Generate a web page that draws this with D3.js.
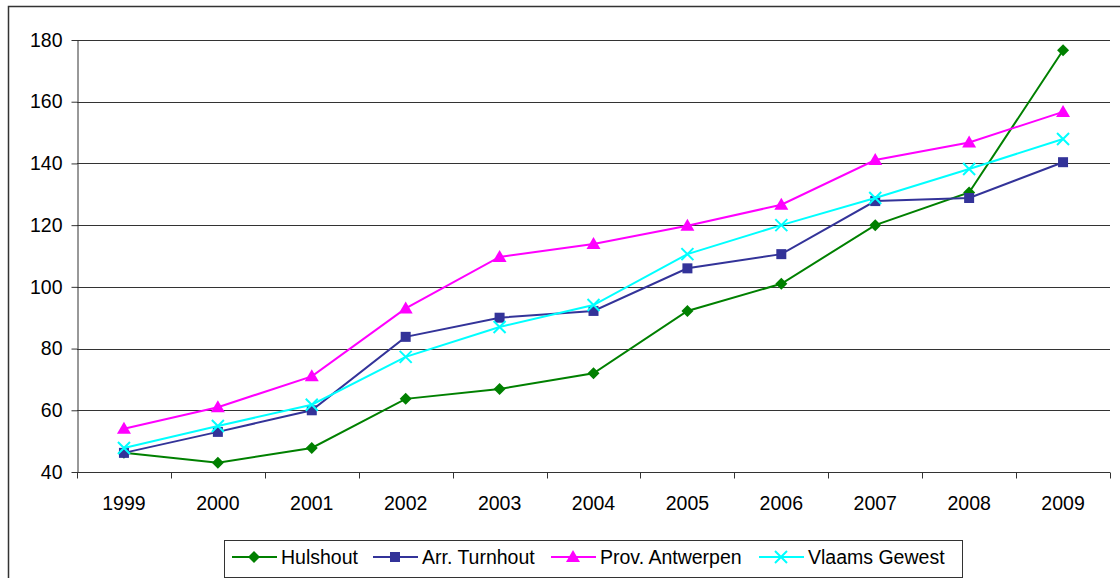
<!DOCTYPE html>
<html>
<head>
<meta charset="utf-8">
<script src="https://cdn.jsdelivr.net/npm/d3@7"></script>
<style>
  body { margin: 0; background: #fff; }
  text { font-family: "Liberation Sans", Arial, sans-serif; }
</style>
</head>
<body>
<div id="chart"></div>
<script>
const years = ["1999", "2000", "2001", "2002", "2003", "2004", "2005", "2006", "2007", "2008", "2009"];
const hulshout = [46.2, 43, 47.8, 63.7, 66.9, 72, 92.2, 101, 120, 130.6, 176.7];
const turnhout = [46.2, 53, 60, 83.8, 90, 92.2, 106, 110.6, 127.8, 128.8, 140.4];
const antwerpen = [54, 61, 71, 93, 109.7, 113.9, 119.8, 126.6, 141.1, 146.8, 156.7];
const vlaams = [47.8, 54.9, 61.8, 77.3, 87, 94.1, 110.6, 120, 128.8, 138.2, 147.9];
const yTicks = [40, 60, 80, 100, 120, 140, 160, 180];

const series = [
  { name: "Hulshout", values: hulshout, color: "#008000", marker: "diamond" },
  { name: "Arr. Turnhout", values: turnhout, color: "#333399", marker: "square" },
  { name: "Prov. Antwerpen", values: antwerpen, color: "#FF00FF", marker: "triangle" },
  { name: "Vlaams Gewest", values: vlaams, color: "#00FFFF", marker: "cross" }
];

const WIDTH = 1120, HEIGHT = 578;
const margin = { left: 77, right: 10, top: 40, bottom: 106 };
const FONT = 19.5;

const svg = d3.select("#chart").append("svg")
  .attr("width", WIDTH).attr("height", HEIGHT);

// outer frame
svg.append("rect")
  .attr("x", 8.5).attr("y", 6.5)
  .attr("width", WIDTH + 10).attr("height", HEIGHT + 10)
  .attr("fill", "none").attr("stroke", "#333").attr("stroke-width", 1.5);

const x = d3.scaleBand().domain(years).range([margin.left, WIDTH - margin.right]);
const y = d3.scaleLinear().domain([40, 180]).range([HEIGHT - margin.bottom, margin.top]);

// gridlines
svg.append("g").selectAll("line").data(yTicks).join("line")
  .attr("x1", margin.left).attr("x2", WIDTH - margin.right)
  .attr("y1", d => Math.round(y(d)) + 0.5).attr("y2", d => Math.round(y(d)) + 0.5)
  .attr("stroke", "#333").attr("stroke-width", 1);

// y axis
const yAxis = svg.append("g")
  .attr("transform", `translate(${margin.left + 0.5},0)`)
  .call(d3.axisLeft(y).tickValues(yTicks).tickSize(6).tickSizeOuter(0).tickPadding(9));
yAxis.selectAll("text").attr("font-size", FONT).attr("fill", "#000");
yAxis.selectAll("line, path").attr("stroke", "#333");

// x axis with ticks at band boundaries
const xg = svg.append("g").attr("transform", `translate(0,${Math.round(y(40)) + 0.5})`);
xg.append("line").attr("x1", margin.left).attr("x2", WIDTH - margin.right).attr("stroke", "#333");
const bounds = years.map(d => x(d)).concat([x(years[years.length - 1]) + x.bandwidth()]);
xg.selectAll("line.tick").data(bounds).join("line")
  .attr("class", "tick")
  .attr("x1", d => Math.round(d) + 0.5).attr("x2", d => Math.round(d) + 0.5)
  .attr("y1", 0).attr("y2", 6).attr("stroke", "#333");
xg.selectAll("text").data(years).join("text")
  .attr("x", d => x(d) + x.bandwidth() / 2).attr("y", 37)
  .attr("text-anchor", "middle").attr("font-size", FONT).text(d => d);

const cx = d => x(d) + x.bandwidth() / 2;

function drawMarker(g, type, color, px, py) {
  if (type === "diamond") {
    g.append("path").attr("d", `M${px},${py - 6}L${px + 6},${py}L${px},${py + 6}L${px - 6},${py}Z`).attr("fill", color);
  } else if (type === "square") {
    g.append("rect").attr("x", px - 5).attr("y", py - 5).attr("width", 10).attr("height", 10).attr("fill", color);
  } else if (type === "triangle") {
    g.append("path").attr("d", `M${px},${py - 7}L${px + 7},${py + 5}L${px - 7},${py + 5}Z`).attr("fill", color);
  } else {
    g.append("path").attr("d", `M${px - 6},${py - 6}L${px + 6},${py + 6}M${px + 6},${py - 6}L${px - 6},${py + 6}`)
      .attr("stroke", color).attr("stroke-width", 2);
  }
}

const line = d3.line().x((d, i) => cx(years[i])).y(d => y(d));

series.forEach(s => {
  const g = svg.append("g");
  g.append("path").attr("d", line(s.values)).attr("fill", "none")
    .attr("stroke", s.color).attr("stroke-width", 2);
  s.values.forEach((v, i) => drawMarker(g, s.marker, s.color, cx(years[i]), y(v)));
});

// legend
const lg = svg.append("g");
lg.append("rect").attr("x", 224.5).attr("y", 540.5).attr("width", 738).attr("height", 37)
  .attr("fill", "#fff").attr("stroke", "#333").attr("stroke-width", 1);
const legendX = [232, 373, 551, 759];
series.forEach((s, i) => {
  const lx = legendX[i], ly = 557;
  lg.append("line").attr("x1", lx).attr("x2", lx + 45).attr("y1", ly).attr("y2", ly)
    .attr("stroke", s.color).attr("stroke-width", 2);
  drawMarker(lg, s.marker, s.color, lx + 22, ly);
  lg.append("text").attr("x", lx + 49).attr("y", ly + 7).attr("font-size", FONT).text(s.name);
});
</script>
</body>
</html>
